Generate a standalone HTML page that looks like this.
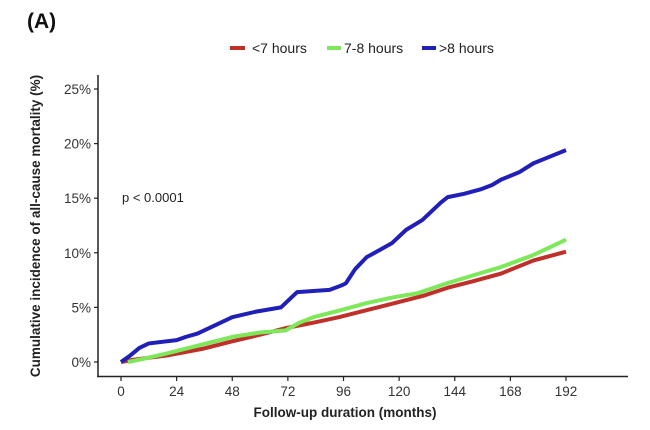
<!DOCTYPE html>
<html><head><meta charset="utf-8"><style>
html,body{margin:0;padding:0;background:#fff;}
svg{display:block;font-family:"Liberation Sans",Arial,sans-serif;}
</style></head><body>
<svg id="chart" width="650" height="430" viewBox="0 0 650 430">
<text x="27" y="28" font-size="21" font-weight="bold" fill="#111">(A)</text>
<g>
<rect x="230" y="46" width="15" height="4" fill="#c0302a"/>
<text x="252" y="53" font-size="14" fill="#222">&lt;7 hours</text>
<rect x="327" y="46" width="14" height="4" fill="#7de85a"/>
<text x="344" y="53" font-size="14" fill="#222">7-8 hours</text>
<rect x="422" y="46" width="14" height="4" fill="#2020b8"/>
<text x="439" y="53" font-size="14" fill="#222">&gt;8 hours</text>
</g>
<line x1="98" y1="75" x2="98" y2="377" stroke="#222" stroke-width="1.5"/>
<line x1="97" y1="376.5" x2="628" y2="376.5" stroke="#222" stroke-width="1.5"/>
<g id="yticks"></g><g id="xticks"></g>
<text x="122" y="202" font-size="13" fill="#222">p &lt; 0.0001</text>
<text transform="translate(40,226) rotate(-90)" text-anchor="middle" font-size="13.5" font-weight="bold" fill="#222">Cumulative incidence of all-cause mortality (%)</text>
<text x="345" y="417" text-anchor="middle" font-size="13.5" font-weight="bold" fill="#222">Follow-up duration (months)</text>
<g id="series"></g>
</svg>
<script>
const xTicks=[0,24,48,72,96,120,144,168,192];
const yTicks=[0,5,10,15,20,25];
const redMonths=[0,5,20,35,48,60,71,83,94,107,120,131,141,152,164,178,192];
const redValues=[0,0.2,0.6,1.2,1.9,2.5,3.1,3.6,4.1,4.8,5.5,6.1,6.8,7.4,8.1,9.3,10.1];
const greenMonths=[3,10,20,35,48,60,71,77,83,94,106,117,128,142,153,164,178,192];
const greenValues=[0,0.3,0.8,1.6,2.3,2.7,2.9,3.6,4.1,4.7,5.4,5.9,6.3,7.3,8.0,8.7,9.8,11.2];
const blueMonths=[0,4,8,12,24,28,33,40,48,58,69,74,76,90,95,97,101,106,112,117,123,130,138,141,148,155,160,164,172,178,185,192];
const blueValues=[0,0.6,1.3,1.7,2.0,2.3,2.6,3.3,4.1,4.6,5.0,6.0,6.4,6.6,7.0,7.2,8.5,9.6,10.3,10.9,12.1,13.0,14.6,15.1,15.4,15.8,16.2,16.7,17.4,18.2,18.8,19.4];
const NS='http://www.w3.org/2000/svg';
function xScale(m){return 121+m*(445/192);}
function yScale(v){return 362-v*(273/25);}
const yt=document.getElementById('yticks');
yTicks.forEach(v=>{
  const l=document.createElementNS(NS,'line');
  l.setAttribute('x1',94);l.setAttribute('x2',98);l.setAttribute('y1',yScale(v));l.setAttribute('y2',yScale(v));
  l.setAttribute('stroke','#222');l.setAttribute('stroke-width','1.2');
  
  
  yt.appendChild(l);
  const t=document.createElementNS(NS,'text');
  t.setAttribute('x',91);t.setAttribute('y',yScale(v)+5);t.setAttribute('text-anchor','end');
  t.setAttribute('font-size','13.5');t.setAttribute('fill','#333');t.textContent=v+'%';
  
  
  yt.appendChild(t);
});
const xt=document.getElementById('xticks');
xTicks.forEach(m=>{
  const l=document.createElementNS(NS,'line');
  l.setAttribute('x1',xScale(m));l.setAttribute('x2',xScale(m));l.setAttribute('y1',377);l.setAttribute('y2',381);
  l.setAttribute('stroke','#222');l.setAttribute('stroke-width','1.2');
  
  
  xt.appendChild(l);
  const t=document.createElementNS(NS,'text');
  t.setAttribute('x',xScale(m));t.setAttribute('y',396);t.setAttribute('text-anchor','middle');
  t.setAttribute('font-size','13.5');t.setAttribute('fill','#333');t.textContent=m;
  
  
  xt.appendChild(t);
});
const sg=document.getElementById('series');
function draw(ms,vs,color,name){
  let d='M'+xScale(ms[0])+','+yScale(vs[0]);
  for(let i=1;i<ms.length;i++){d+=' L'+xScale(ms[i])+','+yScale(vs[i]);}
  const p=document.createElementNS(NS,'path');
  p.setAttribute('d',d);p.setAttribute('fill','none');p.setAttribute('stroke',color);
  p.setAttribute('stroke-width','4');p.setAttribute('stroke-linejoin','round');
  
  
  sg.appendChild(p);
}
draw(redMonths,redValues,'#c0302a','series-lt7-hours');
draw(greenMonths,greenValues,'#7de85a','series-7to8-hours');
draw(blueMonths,blueValues,'#2020b8','series-gt8-hours');
</script>
</body></html>
